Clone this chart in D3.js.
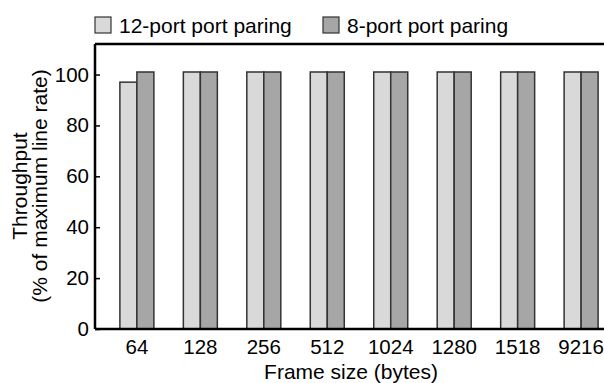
<!DOCTYPE html>
<html>
<head>
<meta charset="utf-8">
<script src="https://cdn.jsdelivr.net/npm/d3@7"></script>
<style>
  body { margin: 0; background: #fff; }
  svg { font-family: "Liberation Sans", Arial, sans-serif; }
</style>
</head>
<body>
<div id="chart"></div>
<script>
const frameSizes = ["64", "128", "256", "512", "1024", "1280", "1518", "9216"];
const series = ["12-port port paring", "8-port port paring"];
const port12 = [97, 101, 101, 101, 101, 101, 101, 101];
const port8 = [101, 101, 101, 101, 101, 101, 101, 101];
const yTicks = [0, 20, 40, 60, 80, 100];

function crtaj() {
    const width = 604, height = 383;
    const margin = { top: 44, right: -19, bottom: 54, left: 95 };
    const innerW = width - margin.left - margin.right;
    const innerH = height - margin.top - margin.bottom;

    const svg = d3.select("#chart").append("svg")
        .attr("width", width)
        .attr("height", height);

    const g = svg.append("g")
        .attr("transform", "translate(" + margin.left + "," + margin.top + ")");

    const x = d3.scaleBand()
        .domain(frameSizes)
        .range([0, innerW])
        .paddingInner(0)
        .paddingOuter(0.16);

    const x1 = d3.scaleBand()
        .domain(series)
        .range([x.bandwidth() / 2 - 17, x.bandwidth() / 2 + 17]);

    const y = d3.scaleLinear()
        .domain([0, 112])
        .range([innerH, 0]);

    const color = d3.scaleOrdinal()
        .domain(series)
        .range(["#d9d9d9", "#a6a6a6"]);

    const rows = frameSizes.map((f, i) => ({ size: f, values: [port12[i], port8[i]] }));

    const groups = g.selectAll(".grp")
        .data(rows)
        .enter().append("g")
        .attr("class", "grp")
        .attr("transform", d => "translate(" + x(d.size) + ",0)");

    groups.selectAll("rect")
        .data(d => series.map((s, j) => ({ s: s, v: d.values[j] })))
        .enter().append("rect")
        .attr("x", d => x1(d.s))
        .attr("width", x1.bandwidth())
        .attr("y", d => y(d.v))
        .attr("height", d => innerH - y(d.v))
        .attr("fill", d => color(d.s))
        .attr("stroke", "#333")
        .attr("stroke-width", 1.5);

    // y axis, ticks inward
    const yAxis = g.append("g")
        .call(d3.axisLeft(y).tickValues(yTicks).tickSize(-5).tickPadding(6));
    yAxis.select(".domain").remove();
    yAxis.selectAll("text").attr("font-size", "20.5px").attr("fill", "#000");
    yAxis.selectAll("line").attr("stroke", "#000").attr("stroke-width", 1.5);

    // x labels
    const xAxis = g.append("g")
        .attr("transform", "translate(0," + innerH + ")")
        .call(d3.axisBottom(x).tickSize(0).tickPadding(10));
    xAxis.select(".domain").remove();
    xAxis.selectAll("text").attr("font-size", "20.5px").attr("fill", "#000")
        .attr("dy", "0.71em");

    // frame lines
    g.append("line").attr("x1", 0).attr("x2", innerW).attr("y1", 0).attr("y2", 0)
        .attr("stroke", "#000").attr("stroke-width", 2.5);
    g.append("line").attr("x1", 0).attr("x2", innerW).attr("y1", innerH).attr("y2", innerH)
        .attr("stroke", "#000").attr("stroke-width", 2.5);
    g.append("line").attr("x1", 0).attr("x2", 0).attr("y1", 0).attr("y2", innerH)
        .attr("stroke", "#000").attr("stroke-width", 2.5);

    // axis titles
    svg.append("text")
        .attr("x", margin.left + 256)
        .attr("y", 379)
        .attr("text-anchor", "middle")
        .attr("font-size", "21px")
        .text("Frame size (bytes)");

    const yt = svg.append("text")
        .attr("transform", "translate(27,186) rotate(-90)")
        .attr("text-anchor", "middle")
        .attr("font-size", "21px");
    yt.append("tspan").attr("x", 0).attr("dy", 0).text("Throughput");
    yt.append("tspan").attr("x", 0).attr("dy", 20).text("(% of maximum line rate)");

    // legend
    const legX = [95, 323];
    const leg = svg.selectAll(".legend")
        .data(series)
        .enter().append("g")
        .attr("class", "legend")
        .attr("transform", (d, i) => "translate(" + legX[i] + ",17)");
    leg.append("rect")
        .attr("width", 16).attr("height", 16)
        .attr("fill", d => color(d))
        .attr("stroke", "#333").attr("stroke-width", 1.2);
    leg.append("text")
        .attr("x", 24).attr("y", 15.5)
        .attr("font-size", "21px")
        .text(d => d);
}

crtaj();
</script>
</body>
</html>
